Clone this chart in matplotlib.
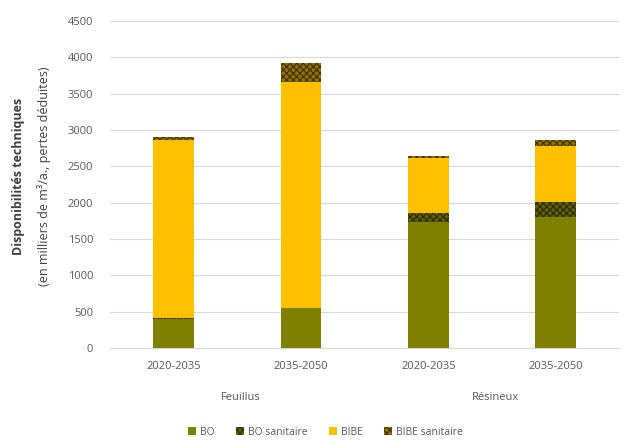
import matplotlib
matplotlib.use("Agg")
import matplotlib.pyplot as plt
import numpy as np

plt.rcParams['font.family'] = ['Open Sans', 'DejaVu Sans']
plt.rcParams['hatch.linewidth'] = 0.8

periods = ["2020-2035", "2035-2050", "2020-2035", "2035-2050"]
groups = ["Feuillus", "Résineux"]
series = ["BO", "BO sanitaire", "BIBE", "BIBE sanitaire"]
bo = [400, 550, 1740, 1800]
bo_san = [10, 0, 120, 210]
bibe = [2450, 3110, 760, 770]
bibe_san = [50, 270, 30, 90]
yticks = [0, 500, 1000, 1500, 2000, 2500, 3000, 3500, 4000, 4500]

fig = plt.figure(figsize=(6.32, 4.40), dpi=100)
ax = fig.add_axes([0.174, 0.209, 0.806, 0.743])

x = np.arange(len(periods))
w = 0.32
olive = "#7F8000"
yellow = "#FFC000"
b = np.zeros(len(x))
ax.bar(x, bo, w, bottom=b, color=olive, label=series[0], zorder=3)
b += bo
ax.bar(x, bo_san, w, bottom=b, color="#5F6000", edgecolor="#2A2A00", hatch="xxxxx", linewidth=0, label=series[1], zorder=3)
b += bo_san
ax.bar(x, bibe, w, bottom=b, color=yellow, label=series[2], zorder=3)
b += bibe
ax.bar(x, bibe_san, w, bottom=b, color="#8F7000", edgecolor="#3F2F00", hatch="xxxxx", linewidth=0, label=series[3], zorder=3)

ax.set_ylim(0, 4500)
ax.set_yticks(yticks)
ax.set_xlim(-0.5, 3.5)
ax.yaxis.grid(True, color="#D9D9D9", linewidth=0.8, zorder=0)
for s in ["top", "right", "left"]:
    ax.spines[s].set_visible(False)
ax.spines["bottom"].set_color("#D9D9D9")
ax.tick_params(axis="both", length=0, labelsize=8, labelcolor="#595959")
ax.tick_params(axis="y", pad=12)
ax.tick_params(axis="x", pad=9)
ax.set_xticks(x)
ax.set_xticklabels(periods)

for i, g in enumerate(groups):
    ax.text(2 * i + 0.53, -0.15, g, transform=ax.get_xaxis_transform(), ha="center", va="center",
            fontsize=8, color="#595959")

fig.text(0.03, 0.6, "Disponibilités techniques", rotation=90, ha="center", va="center",
         fontsize=9, fontweight="bold", color="#404040")
fig.text(0.069, 0.6, "(en milliers de m³/a., pertes déduites)", rotation=90, ha="center", va="center",
         fontsize=9, color="#404040")

fig.legend(loc="center", bbox_to_anchor=(0.515, 0.017), ncol=4, frameon=False, fontsize=7.5,
           handlelength=0.8, handleheight=0.8, columnspacing=2.0, handletextpad=0.4, labelcolor="#595959")

fig.savefig("out.png", dpi=100)
